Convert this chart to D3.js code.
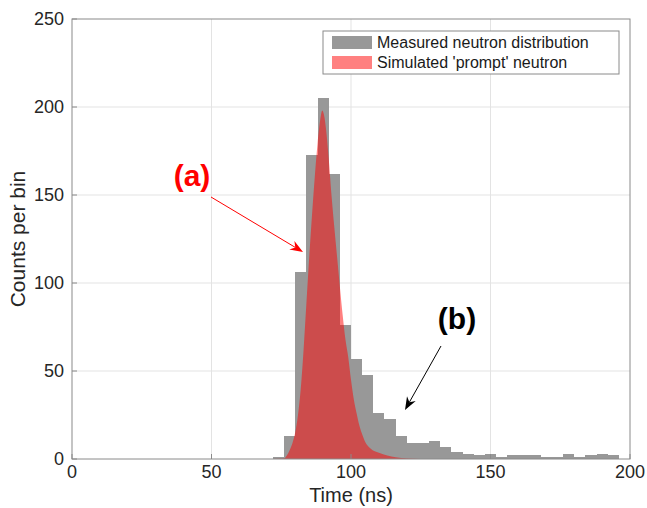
<!DOCTYPE html>
<html>
<head>
<meta charset="utf-8">
<script src="https://cdn.jsdelivr.net/npm/d3@7"></script>
<style>
  body { margin: 0; background: #fff; }
  text { font-family: "Liberation Sans", Arial, sans-serif; }
</style>
</head>
<body>
<svg id="chart" width="647" height="508"></svg>
<script>
// measured histogram, 4 ns bins (left edge of each bin)
const binStart = [72, 76, 80, 84, 88, 92, 96, 100, 104, 108, 112, 116, 120, 124, 128, 132, 136, 140, 144, 148, 152, 156, 160, 164, 168, 172, 176, 180, 184, 188, 192];
const measured = [1, 13, 106, 173, 205, 162, 76, 57, 48, 26, 23, 13, 9, 9, 10, 7, 4, 3, 2, 3, 1, 2, 2, 2, 1, 1, 3, 1, 2, 3, 2];
const binWidth = 4;

// simulated 'prompt' neutron curve
const simTime   = [72, 76, 77, 78, 79, 80, 81, 82, 83, 84, 85, 86, 87, 88, 89, 89.7, 90.5, 91, 92, 93, 94, 95, 96, 97, 98, 99, 100, 101, 102, 103, 104, 105, 107, 110, 113, 116, 120, 125];
const simCounts = [0, 0.3, 2, 5, 9, 15, 25, 40, 62, 88, 114, 138, 160, 179, 193, 198, 194, 188, 171, 150, 132, 115, 98, 82, 68, 58, 45, 34, 26, 19, 14, 10, 6, 3.5, 2, 1, 0.3, 0];

const xTicks = [0, 50, 100, 150, 200];
const yTicks = [0, 50, 100, 150, 200, 250];
const legendLabels = ["Measured neutron distribution", "Simulated 'prompt' neutron"];

const svg = d3.select('#chart');
const m = { left: 72, right: 630, top: 19, bottom: 459 };

const x = d3.scaleLinear().domain([0, 200]).range([m.left, m.right]);
const y = d3.scaleLinear().domain([0, 250]).range([m.bottom, m.top]);

const gray = '#989898';
const red = 'rgba(255,0,0,0.5)';

// grid
svg.append('g').selectAll('line').data(xTicks.slice(1, -1)).join('line')
  .attr('x1', d => x(d)).attr('x2', d => x(d))
  .attr('y1', m.top).attr('y2', m.bottom)
  .attr('stroke', '#e3e3e3').attr('stroke-width', 1);
svg.append('g').selectAll('line').data(yTicks.slice(1, -1)).join('line')
  .attr('x1', m.left).attr('x2', m.right)
  .attr('y1', d => y(d)).attr('y2', d => y(d))
  .attr('stroke', '#e3e3e3').attr('stroke-width', 1);

// histogram bars
svg.append('g').selectAll('rect').data(binStart).join('rect')
  .attr('x', d => x(d))
  .attr('width', x(binWidth) - x(0))
  .attr('y', (d, i) => y(measured[i]))
  .attr('height', (d, i) => y(0) - y(measured[i]))
  .attr('fill', gray)
  .attr('shape-rendering', 'crispEdges');

// simulated curve
const simData = simTime.map((t, i) => [t, simCounts[i]]);
const area = d3.area()
  .x(d => x(d[0]))
  .y0(y(0))
  .y1(d => y(d[1]))
  .curve(d3.curveMonotoneX);
svg.append('path').datum(simData)
  .attr('d', area)
  .attr('fill', red);

// axes box
svg.append('rect')
  .attr('x', m.left).attr('y', m.top)
  .attr('width', m.right - m.left).attr('height', m.bottom - m.top)
  .attr('fill', 'none').attr('stroke', '#8a8a8a').attr('stroke-width', 1);

// inward ticks
svg.append('g').selectAll('line').data(xTicks).join('line')
  .attr('x1', d => x(d)).attr('x2', d => x(d))
  .attr('y1', m.bottom).attr('y2', m.bottom - 5)
  .attr('stroke', '#8a8a8a');
svg.append('g').selectAll('line').data(yTicks).join('line')
  .attr('x1', m.left).attr('x2', m.left + 5)
  .attr('y1', d => y(d)).attr('y2', d => y(d))
  .attr('stroke', '#8a8a8a');

// tick labels
svg.append('g').selectAll('text').data(xTicks).join('text')
  .attr('x', d => x(d)).attr('y', m.bottom + 19)
  .attr('text-anchor', 'middle')
  .attr('font-size', 18).attr('fill', '#262626')
  .text(d => d);
svg.append('g').selectAll('text').data(yTicks).join('text')
  .attr('x', m.left - 8).attr('y', d => y(d))
  .attr('dy', '0.35em')
  .attr('text-anchor', 'end')
  .attr('font-size', 18).attr('fill', '#262626')
  .text(d => d);

// axis titles
svg.append('text')
  .attr('x', (m.left + m.right) / 2).attr('y', 502)
  .attr('text-anchor', 'middle')
  .attr('font-size', 20).attr('fill', '#262626')
  .text('Time (ns)');
svg.append('text')
  .attr('transform', 'translate(25,' + ((m.top + m.bottom) / 2) + ') rotate(-90)')
  .attr('text-anchor', 'middle')
  .attr('font-size', 21).attr('fill', '#262626')
  .text('Counts per bin');

// legend
const lg = svg.append('g');
lg.append('rect')
  .attr('x', 323).attr('y', 31).attr('width', 296).attr('height', 43)
  .attr('fill', '#fff').attr('stroke', '#8a8a8a');
const lgColors = [gray, 'rgb(255,128,128)'];
legendLabels.forEach((lab, i) => {
  lg.append('rect')
    .attr('x', 332).attr('y', 36 + i * 20).attr('width', 40).attr('height', 13)
    .attr('fill', lgColors[i]);
  lg.append('text')
    .attr('x', 377).attr('y', 42.5 + i * 20).attr('dy', '0.35em')
    .attr('font-size', 16).attr('fill', '#1a1a1a')
    .text(lab);
});

// annotations
function arrow(x1, y1, x2, y2, color) {
  const ang = Math.atan2(y2 - y1, x2 - x1);
  const L = 13, W = 5, back = 9;
  const bx = x2 - back * Math.cos(ang), by = y2 - back * Math.sin(ang);
  svg.append('line')
    .attr('x1', x1).attr('y1', y1).attr('x2', bx).attr('y2', by)
    .attr('stroke', color).attr('stroke-width', 1);
  const px = -Math.sin(ang), py = Math.cos(ang);
  const tx = x2 - L * Math.cos(ang), ty = y2 - L * Math.sin(ang);
  const pts = [
    [x2, y2],
    [tx + W * px, ty + W * py],
    [bx, by],
    [tx - W * px, ty - W * py]
  ];
  svg.append('path')
    .attr('d', 'M' + pts.map(p => p.join(',')).join('L') + 'Z')
    .attr('fill', color);
}

svg.append('text')
  .attr('x', 192).attr('y', 175).attr('dy', '0.35em')
  .attr('text-anchor', 'middle')
  .attr('font-family', '"DejaVu Sans", sans-serif')
  .attr('font-weight', 'bold').attr('font-size', 30).attr('fill', '#ff0000')
  .text('(a)');
arrow(211, 197, 303, 252, '#ff0000');

svg.append('text')
  .attr('x', 457).attr('y', 318).attr('dy', '0.35em')
  .attr('text-anchor', 'middle')
  .attr('font-family', '"DejaVu Sans", sans-serif')
  .attr('font-weight', 'bold').attr('font-size', 30).attr('fill', '#000')
  .text('(b)');
arrow(441, 346, 405, 410, '#000');
</script>
</body>
</html>
